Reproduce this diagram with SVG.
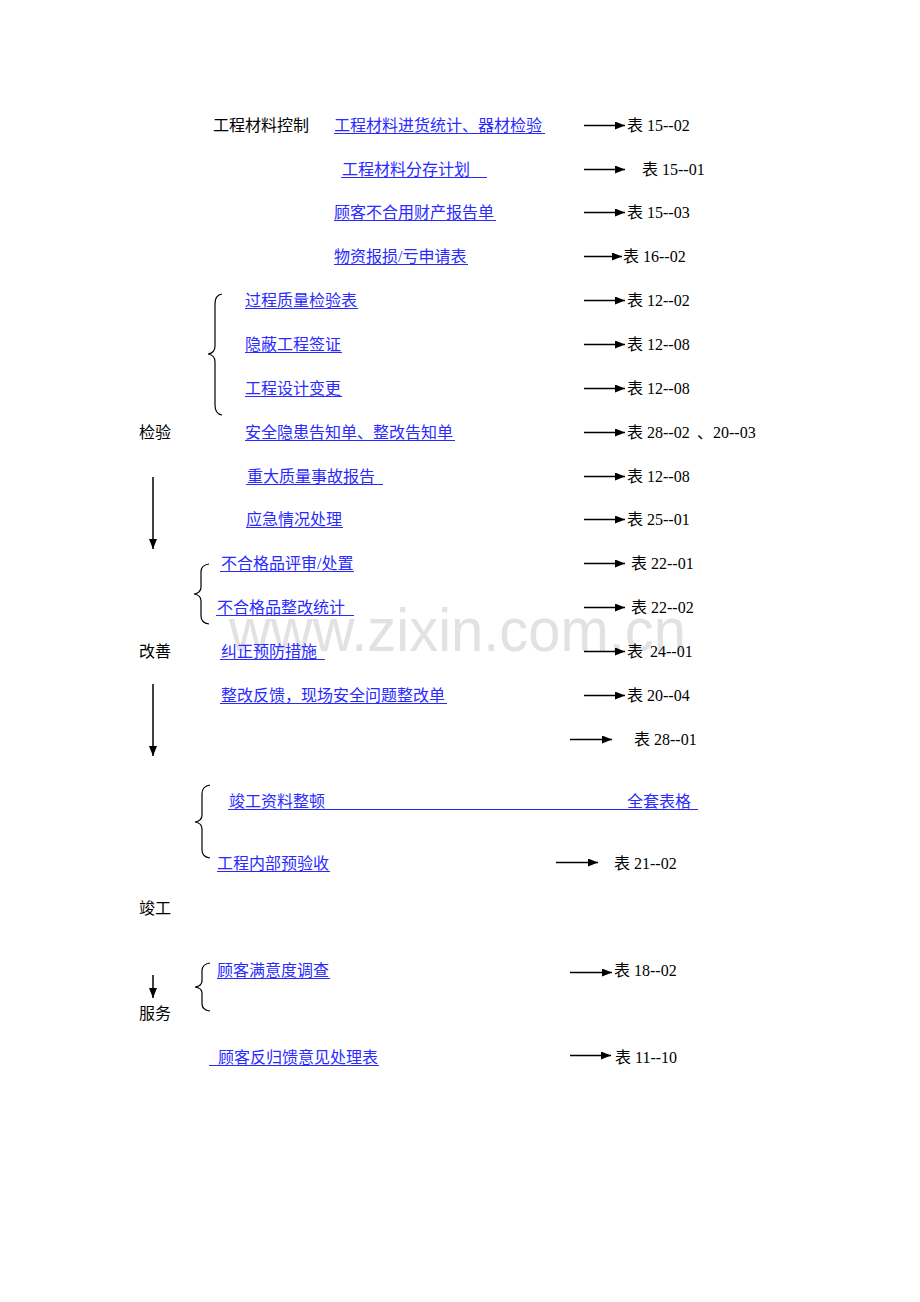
<svg xmlns="http://www.w3.org/2000/svg" width="920" height="1302" viewBox="0 0 920 1302">
<style>
.t{font-family:"Liberation Serif","Noto Sans CJK SC",serif;font-size:16px;dominant-baseline:central}
.k{fill:#000}
.l{fill:#2a2aff}
.ul{stroke:#2a2aff;stroke-width:1}
.ar{stroke:#000;stroke-width:1.5;fill:none;marker-end:url(#ah)}
.br{stroke:#000;stroke-width:1.2;fill:none}
.wm{font-family:"Liberation Sans",Arial,sans-serif;font-size:62px;fill:#e2e2e2}
</style>
<defs>
<marker id="ah" viewBox="0 0 10 8" refX="10" refY="4" markerWidth="10" markerHeight="8" markerUnits="userSpaceOnUse" orient="auto"><path d="M0,0 L10,4 L0,8 z" fill="#000"/></marker>
</defs>
<rect width="920" height="1302" fill="#fff"/>
<text class="wm" x="229" y="651" textLength="457" lengthAdjust="spacingAndGlyphs">www.zixin.com.cn</text>

<g id="stages">
<text class="t k" x="213" y="125">工程材料控制</text>
<text class="t k" x="139" y="432">检验</text>
<text class="t k" x="139" y="651">改善</text>
<text class="t k" x="139" y="908">竣工</text>
<text class="t k" x="139" y="1013">服务</text>
</g>

<g id="n1"><text class="t l" x="334" y="125">工程材料进货统计、器材检验</text><line class="ul" x1="334" y1="133.5" x2="545" y2="133.5"/><text class="t k" x="627" y="125">表 15--02</text></g>
<g id="n2"><text class="t l" x="342" y="169">工程材料分存计划</text><line class="ul" x1="341" y1="177.5" x2="487" y2="177.5"/><text class="t k" x="642" y="169">表 15--01</text></g>
<g id="n3"><text class="t l" x="334" y="212">顾客不合用财产报告单</text><line class="ul" x1="334" y1="220.5" x2="496" y2="220.5"/><text class="t k" x="627" y="212">表 15--03</text></g>
<g id="n4"><text class="t l" x="334" y="256">物资报损/亏申请表</text><line class="ul" x1="334" y1="264.5" x2="468" y2="264.5"/><text class="t k" x="623" y="256">表 16--02</text></g>
<g id="n5"><text class="t l" x="245" y="300">过程质量检验表</text><line class="ul" x1="245" y1="308.5" x2="358" y2="308.5"/><text class="t k" x="627" y="300">表 12--02</text></g>
<g id="n6"><text class="t l" x="245" y="344">隐蔽工程签证</text><line class="ul" x1="245" y1="352.5" x2="342" y2="352.5"/><text class="t k" x="627" y="344">表 12--08</text></g>
<g id="n7"><text class="t l" x="245" y="388">工程设计变更</text><line class="ul" x1="245" y1="396.5" x2="342" y2="396.5"/><text class="t k" x="627" y="388">表 12--08</text></g>
<g id="n8"><text class="t l" x="245" y="432">安全隐患告知单、整改告知单</text><line class="ul" x1="245" y1="440.5" x2="455" y2="440.5"/><text class="t k" x="627" y="432">表 28--02</text><text class="t k" x="697" y="432">、20--03</text></g>
<g id="n9"><text class="t l" x="247" y="476">重大质量事故报告</text><line class="ul" x1="246" y1="484.5" x2="383" y2="484.5"/><text class="t k" x="627" y="476">表 12--08</text></g>
<g id="n10"><text class="t l" x="246" y="519">应急情况处理</text><line class="ul" x1="246" y1="527.5" x2="343" y2="527.5"/><text class="t k" x="627" y="519">表 25--01</text></g>
<g id="n11"><text class="t l" x="221" y="563">不合格品评审/处置</text><line class="ul" x1="220" y1="571.5" x2="354" y2="571.5"/><text class="t k" x="631" y="563">表 22--01</text></g>
<g id="n12"><text class="t l" x="217" y="607">不合格品整改统计</text><line class="ul" x1="216" y1="615.5" x2="354" y2="615.5"/><text class="t k" x="631" y="607">表 22--02</text></g>
<g id="n13"><text class="t l" x="221" y="651">纠正预防措施</text><line class="ul" x1="220" y1="659.5" x2="325" y2="659.5"/><text class="t k" x="627" y="651">表</text><text class="t k" x="650" y="651">24--01</text></g>
<g id="n14"><text class="t l" x="221" y="695">整改反馈，现场安全问题整改单</text><line class="ul" x1="220" y1="703.5" x2="447" y2="703.5"/><text class="t k" x="627" y="695">表 20--04</text></g>
<g id="n15"><text class="t k" x="634" y="739">表 28--01</text></g>
<g id="n16"><text class="t l" x="229" y="801">竣工资料整顿</text><text class="t l" x="627" y="801">全套表格</text><line class="ul" x1="228" y1="809.5" x2="698" y2="809.5"/></g>
<g id="n17"><text class="t l" x="217" y="863">工程内部预验收</text><line class="ul" x1="217" y1="871.5" x2="330" y2="871.5"/><text class="t k" x="614" y="863">表 21--02</text></g>
<g id="n18"><text class="t l" x="217" y="970">顾客满意度调查</text><line class="ul" x1="217" y1="978.5" x2="330" y2="978.5"/><text class="t k" x="614" y="970">表 18--02</text></g>
<g id="n19"><text class="t l" x="218" y="1057">顾客反归馈意见处理表</text><line class="ul" x1="209" y1="1065.5" x2="379" y2="1065.5"/><text class="t k" x="615" y="1057">表 11--10</text></g>

<g id="connectors">
<line class="ar" x1="584" y1="125.5" x2="625" y2="125.5"/>
<line class="ar" x1="584" y1="169.5" x2="625" y2="169.5"/>
<line class="ar" x1="584" y1="212.5" x2="625" y2="212.5"/>
<line class="ar" x1="584" y1="256.5" x2="622" y2="256.5"/>
<line class="ar" x1="584" y1="300.5" x2="625" y2="300.5"/>
<line class="ar" x1="584" y1="344.5" x2="625" y2="344.5"/>
<line class="ar" x1="584" y1="388.5" x2="625" y2="388.5"/>
<line class="ar" x1="584" y1="432.5" x2="625" y2="432.5"/>
<line class="ar" x1="584" y1="476.5" x2="625" y2="476.5"/>
<line class="ar" x1="584" y1="519.5" x2="625" y2="519.5"/>
<line class="ar" x1="584" y1="563.5" x2="625" y2="563.5"/>
<line class="ar" x1="584" y1="607.5" x2="625" y2="607.5"/>
<line class="ar" x1="584" y1="651.5" x2="625" y2="651.5"/>
<line class="ar" x1="584" y1="695.5" x2="625" y2="695.5"/>
<line class="ar" x1="570" y1="739.5" x2="612" y2="739.5"/>
<line class="ar" x1="556" y1="862.5" x2="598" y2="862.5"/>
<line class="ar" x1="570" y1="972.5" x2="612" y2="972.5"/>
<line class="ar" x1="570" y1="1055.5" x2="611" y2="1055.5"/>
<line class="ar" x1="153" y1="477" x2="153" y2="549"/>
<line class="ar" x1="153" y1="684" x2="153" y2="756"/>
<line class="ar" x1="153" y1="975" x2="153" y2="998"/>
<path class="br" d="M222,294 Q215,295 215,304 L215,346 Q215,353 208,354 Q215,355 215,362 L215,405 Q215,414 222,415"/>
<path class="br" d="M209,564 Q201,565 201,572 L201,587 Q201,593 194,594 Q201,595 201,601 L201,616 Q201,623 209,624"/>
<path class="br" d="M210,785 Q202,786 202,794 L202,815 Q202,821 195,822 Q202,823 202,829 L202,850 Q202,857 210,858"/>
<path class="br" d="M210,963 Q202,964 202,971 L202,981 Q202,986 195,987 Q202,988 202,993 L202,1004 Q202,1010 210,1011"/>
</g>
</svg>
